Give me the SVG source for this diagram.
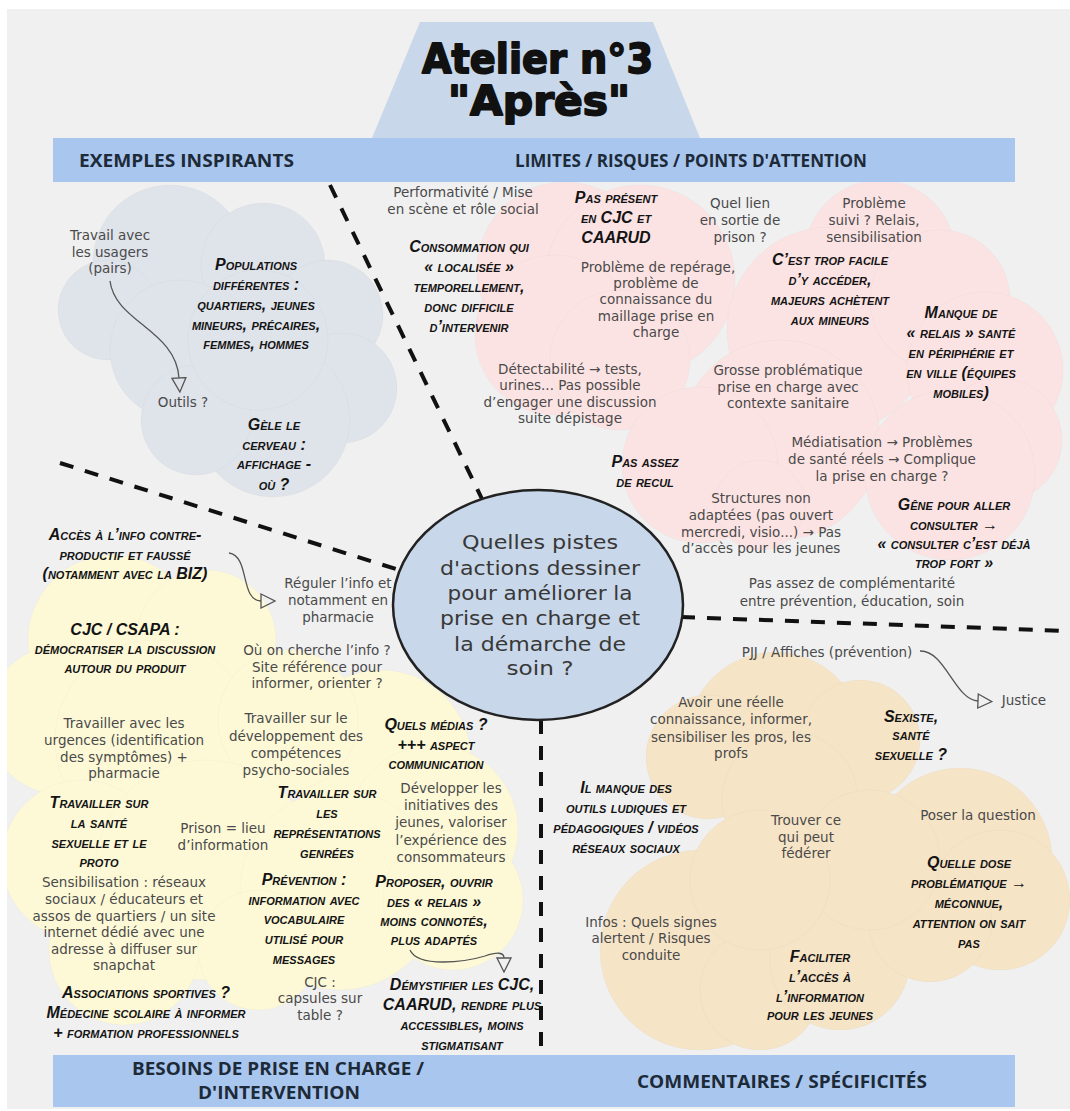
<svg xmlns="http://www.w3.org/2000/svg" width="1070" height="1111" viewBox="0 0 1070 1111">
<defs>
<style>
.g{font-family:"DejaVu Sans","Liberation Sans",sans-serif;font-size:13.5px;fill:#4a4a4a;text-anchor:middle}
.h{font-family:"Liberation Sans",Arial,sans-serif;font-size:16px;font-weight:bold;font-style:italic;font-variant:small-caps;fill:#141414;text-anchor:middle}
.bar{fill:#a9c6ee}
.bt{font-family:"Open Sans","Liberation Sans",sans-serif;font-weight:bold;font-size:17px;fill:#1d2a38}
.dash{stroke:#111;stroke-width:4;stroke-dasharray:14 12;fill:none}
.conn{stroke:#555;stroke-width:1.3;fill:none;marker-end:url(#tri)}
.cloud circle{stroke:#000;stroke-opacity:0.022;stroke-width:1}
#cloud-grey circle{fill:#dfe3ea}
#cloud-pink circle{fill:#fce3e3}
#cloud-yellow circle{fill:#fdf9d7}
#cloud-beige circle{fill:#f6e4c7}
.title{font-family:"DejaVu Sans","Liberation Sans",sans-serif;font-weight:900;font-size:40px;fill:#111;stroke:#111;stroke-width:1.8;stroke-linejoin:round;text-anchor:middle}
.q{font-family:"DejaVu Sans","Liberation Sans",sans-serif;font-size:20px;fill:#383838;text-anchor:middle}
</style>
<clipPath id="bgclip"><rect x="7" y="9" width="1063" height="1100"/></clipPath>
<marker id="tri" markerUnits="userSpaceOnUse" markerWidth="16" markerHeight="16" refX="1" refY="8" orient="auto" viewBox="0 0 16 16"><path d="M1,1 L15,8 L1,15 z" fill="none" stroke="#555" stroke-width="1.3"/></marker>
</defs>

<rect x="0" y="0" width="1070" height="1111" fill="#ffffff"/>
<rect x="7" y="9" width="1063" height="1100" fill="#f0f0f0"/>

<g id="title-block">
<polygon points="420,22 653,22 700,138 372,138" fill="#c8d8ea"/>
<text class="title"><tspan x="537.5" y="73" textLength="231" lengthAdjust="spacingAndGlyphs">Atelier n°3</tspan><tspan x="539" y="115" textLength="182" lengthAdjust="spacingAndGlyphs">"Après"</tspan></text>
</g>

<g id="clouds" clip-path="url(#bgclip)">
<g id="cloud-grey" class="cloud">
<circle cx="170" cy="262" r="77"/>
<circle cx="263" cy="265" r="62"/>
<circle cx="328" cy="315" r="55"/>
<circle cx="108" cy="310" r="50"/>
<circle cx="180" cy="350" r="70"/>
<circle cx="342" cy="388" r="55"/>
<circle cx="273" cy="420" r="77"/>
<circle cx="196" cy="420" r="55"/>
<circle cx="258" cy="340" r="70"/>
</g>
<g id="cloud-pink" class="cloud">
<circle cx="565" cy="270" r="88"/>
<circle cx="640" cy="280" r="95"/>
<circle cx="555" cy="335" r="80"/>
<circle cx="620" cy="360" r="70"/>
<circle cx="880" cy="255" r="75"/>
<circle cx="830" cy="330" r="103"/>
<circle cx="940" cy="300" r="70"/>
<circle cx="985" cy="370" r="78"/>
<circle cx="1000" cy="440" r="62"/>
<circle cx="780" cy="440" r="100"/>
<circle cx="700" cy="465" r="78"/>
<circle cx="760" cy="505" r="45"/>
<circle cx="950" cy="475" r="85"/>
</g>
<g id="cloud-yellow" class="cloud">
<circle cx="113" cy="640" r="85"/>
<circle cx="206" cy="640" r="70"/>
<circle cx="62" cy="720" r="75"/>
<circle cx="155" cy="740" r="100"/>
<circle cx="381" cy="760" r="90"/>
<circle cx="288" cy="720" r="70"/>
<circle cx="433" cy="830" r="85"/>
<circle cx="82" cy="860" r="80"/>
<circle cx="206" cy="870" r="110"/>
<circle cx="340" cy="890" r="100"/>
<circle cx="453" cy="900" r="70"/>
<circle cx="124" cy="950" r="75"/>
<circle cx="258" cy="950" r="60"/>
</g>
<g id="cloud-beige" class="cloud">
<circle cx="775" cy="740" r="88"/>
<circle cx="708" cy="757" r="62"/>
<circle cx="860" cy="740" r="60"/>
<circle cx="790" cy="800" r="68"/>
<circle cx="700" cy="950" r="100"/>
<circle cx="760" cy="990" r="60"/>
<circle cx="840" cy="960" r="70"/>
<circle cx="960" cy="860" r="92"/>
<circle cx="1000" cy="900" r="70"/>
<circle cx="930" cy="920" r="62"/>
<circle cx="870" cy="860" r="70"/>
<circle cx="760" cy="880" r="70"/>
</g>
</g>

<g id="header-bars">
<rect class="bar" x="53" y="138" width="962" height="44"/>
<text class="bt" x="79" y="167" textLength="215" lengthAdjust="spacingAndGlyphs">EXEMPLES INSPIRANTS</text>
<text class="bt" x="515" y="167" textLength="352" lengthAdjust="spacingAndGlyphs">LIMITES / RISQUES / POINTS D'ATTENTION</text>
<rect class="bar" x="53" y="1055" width="962" height="52"/>
<text class="bt" x="278" y="1075" text-anchor="middle" textLength="292" lengthAdjust="spacingAndGlyphs">BESOINS DE PRISE EN CHARGE /</text>
<text class="bt" x="279" y="1099" text-anchor="middle" textLength="162" lengthAdjust="spacingAndGlyphs">D'INTERVENTION</text>
<text class="bt" x="782" y="1088" text-anchor="middle" textLength="290" lengthAdjust="spacingAndGlyphs">COMMENTAIRES / SPÉCIFICITÉS</text>
</g>

<g id="connectors">
<line class="dash" x1="330" y1="185" x2="482" y2="499"/>
<line class="dash" x1="60" y1="463" x2="399" y2="570"/>
<line class="dash" x1="681" y1="617" x2="1068" y2="631"/>
<line class="dash" x1="541" y1="720" x2="541" y2="1052"/>
<path class="conn" d="M110,281 C115,322 176,330 179,378"/>
<path class="conn" d="M229,553 C250,556 240,601 261,601"/>
<path class="conn" d="M410,950 C418,968 465,962 485,956 C497,952 504,952 504,958"/>
<path class="conn" d="M920,651 C945,650 955,700 978,701"/>
</g>

<g id="center-question">
<ellipse cx="538" cy="605" rx="145" ry="115" fill="#c8d7e9" stroke="#222" stroke-width="2.5"/>
<text class="q" x="540" y="549" textLength="156" lengthAdjust="spacingAndGlyphs">Quelles pistes</text>
<text class="q" x="540" y="575" textLength="200" lengthAdjust="spacingAndGlyphs">d'actions dessiner</text>
<text class="q" x="540" y="600" textLength="185" lengthAdjust="spacingAndGlyphs">pour améliorer la</text>
<text class="q" x="540" y="625" textLength="200" lengthAdjust="spacingAndGlyphs">prise en charge et</text>
<text class="q" x="540" y="651" textLength="172" lengthAdjust="spacingAndGlyphs">la démarche de</text>
<text class="q" x="540" y="675" textLength="67" lengthAdjust="spacingAndGlyphs">soin ?</text>
</g>

<!-- EXEMPLES INSPIRANTS -->
<g id="n-travail"><text class="g"><tspan x="110" y="240">Travail avec</tspan><tspan x="110" y="257">les usagers</tspan><tspan x="110" y="273">(pairs)</tspan></text></g>
<g id="n-outils"><text class="g" x="183" y="407">Outils ?</text></g>
<g id="n-populations"><text class="h"><tspan x="256" y="270">Populations</tspan><tspan x="256" y="290">différentes :</tspan><tspan x="256" y="310">quartiers, jeunes</tspan><tspan x="256" y="330">mineurs, précaires,</tspan><tspan x="256" y="349">femmes, hommes</tspan></text></g>
<g id="n-gele"><text class="h"><tspan x="274" y="430">Gèle le</tspan><tspan x="274" y="450">cerveau :</tspan><tspan x="274" y="469">affichage -</tspan><tspan x="274" y="490">où ?</tspan></text></g>

<!-- LIMITES -->
<g id="n-performativite"><text class="g"><tspan x="463" y="197">Performativité / Mise</tspan><tspan x="463" y="214">en scène et rôle social</tspan></text></g>
<g id="n-pas-present"><text class="h"><tspan x="616" y="203">Pas présent</tspan><tspan x="616" y="223">en CJC et</tspan><tspan x="616" y="243">CAARUD</tspan></text></g>
<g id="n-quel-lien"><text class="g"><tspan x="740" y="208">Quel lien</tspan><tspan x="740" y="225">en sortie de</tspan><tspan x="740" y="242">prison ?</tspan></text></g>
<g id="n-probleme-suivi"><text class="g"><tspan x="874" y="208">Problème</tspan><tspan x="874" y="225">suivi ? Relais,</tspan><tspan x="874" y="242">sensibilisation</tspan></text></g>
<g id="n-consommation"><text class="h"><tspan x="469" y="252">Consommation qui</tspan><tspan x="469" y="272">« localisée »</tspan><tspan x="469" y="292">temporellement,</tspan><tspan x="469" y="312">donc difficile</tspan><tspan x="469" y="332">d’intervenir</tspan></text></g>
<g id="n-reperage"><text class="g"><tspan x="658" y="272">Problème de repérage,</tspan><tspan x="656" y="288">problème de</tspan><tspan x="656" y="304">connaissance du</tspan><tspan x="656" y="321">maillage prise en</tspan><tspan x="656" y="337">charge</tspan></text></g>
<g id="n-trop-facile"><text class="h"><tspan x="830" y="265">C’est trop facile</tspan><tspan x="830" y="285">d’y accéder,</tspan><tspan x="830" y="305">majeurs achètent</tspan><tspan x="830" y="325">aux mineurs</tspan></text></g>
<g id="n-manque-relais"><text class="h"><tspan x="961" y="318">Manque de</tspan><tspan x="961" y="338">« relais » santé</tspan><tspan x="961" y="358">en périphérie et</tspan><tspan x="961" y="378">en ville (équipes</tspan><tspan x="961" y="398">mobiles)</tspan></text></g>
<g id="n-detectabilite"><text class="g"><tspan x="570" y="374">Détectabilité → tests,</tspan><tspan x="570" y="390">urines... Pas possible</tspan><tspan x="570" y="407">d’engager une discussion</tspan><tspan x="570" y="423">suite dépistage</tspan></text></g>
<g id="n-grosse"><text class="g"><tspan x="788" y="375">Grosse problématique</tspan><tspan x="788" y="392">prise en charge avec</tspan><tspan x="788" y="408">contexte sanitaire</tspan></text></g>
<g id="n-mediatisation"><text class="g"><tspan x="882" y="447">Médiatisation → Problèmes</tspan><tspan x="882" y="464">de santé réels → Complique</tspan><tspan x="882" y="481">la prise en charge ?</tspan></text></g>
<g id="n-recul"><text class="h"><tspan x="645" y="467">Pas assez</tspan><tspan x="645" y="487">de recul</tspan></text></g>
<g id="n-structures"><text class="g"><tspan x="761" y="503">Structures non</tspan><tspan x="761" y="520">adaptées (pas ouvert</tspan><tspan x="761" y="537">mercredi, visio...) → Pas</tspan><tspan x="761" y="553">d’accès pour les jeunes</tspan></text></g>
<g id="n-gene"><text class="h"><tspan x="954" y="510">Gêne pour aller</tspan><tspan x="954" y="530">consulter →</tspan><tspan x="954" y="549">« consulter c’est déjà</tspan><tspan x="954" y="568">trop fort »</tspan></text></g>
<g id="n-complementarite"><text class="g"><tspan x="852" y="588">Pas assez de complémentarité</tspan><tspan x="852" y="606">entre prévention, éducation, soin</tspan></text></g>

<!-- BESOINS -->
<g id="n-acces"><text class="h"><tspan x="125" y="540">Accès à l’info contre-</tspan><tspan x="125" y="560">productif et faussé</tspan><tspan x="125" y="579">(notamment avec la BIZ)</tspan></text></g>
<g id="n-reguler"><text class="g"><tspan x="338" y="588">Réguler l’info et</tspan><tspan x="338" y="605">notamment en</tspan><tspan x="338" y="622">pharmacie</tspan></text></g>
<g id="n-cjc-csapa"><text class="h"><tspan x="125" y="635">CJC / CSAPA :</tspan><tspan x="125" y="654">démocratiser la discussion</tspan><tspan x="125" y="673">autour du produit</tspan></text></g>
<g id="n-ou-cherche"><text class="g"><tspan x="317" y="655">Où on cherche l’info ?</tspan><tspan x="317" y="672">Site référence pour</tspan><tspan x="317" y="688">informer, orienter ?</tspan></text></g>
<g id="n-urgences"><text class="g"><tspan x="124" y="728">Travailler avec les</tspan><tspan x="124" y="745">urgences (identification</tspan><tspan x="124" y="762">des symptômes) +</tspan><tspan x="124" y="778">pharmacie</tspan></text></g>
<g id="n-competences"><text class="g"><tspan x="296" y="723">Travailler sur le</tspan><tspan x="296" y="741">développement des</tspan><tspan x="296" y="758">compétences</tspan><tspan x="296" y="775">psycho-sociales</tspan></text></g>
<g id="n-medias"><text class="h"><tspan x="436" y="730">Quels médias ?</tspan><tspan x="436" y="750">+++ aspect</tspan><tspan x="436" y="769">communication</tspan></text></g>
<g id="n-sante-sexuelle"><text class="h"><tspan x="99" y="808">Travailler sur</tspan><tspan x="99" y="828">la santé</tspan><tspan x="99" y="848">sexuelle et le</tspan><tspan x="99" y="867">proto</tspan></text></g>
<g id="n-representations"><text class="h"><tspan x="327" y="798">Travailler sur</tspan><tspan x="327" y="818">les</tspan><tspan x="327" y="838">représentations</tspan><tspan x="327" y="858">genrées</tspan></text></g>
<g id="n-prison"><text class="g"><tspan x="223" y="833">Prison = lieu</tspan><tspan x="223" y="850">d’information</tspan></text></g>
<g id="n-developper"><text class="g"><tspan x="451" y="793">Développer les</tspan><tspan x="451" y="810">initiatives des</tspan><tspan x="451" y="827">jeunes, valoriser</tspan><tspan x="451" y="845">l’expérience des</tspan><tspan x="451" y="862">consommateurs</tspan></text></g>
<g id="n-sensibilisation"><text class="g"><tspan x="124" y="887">Sensibilisation : réseaux</tspan><tspan x="124" y="904">sociaux / éducateurs et</tspan><tspan x="124" y="921">assos de quartiers / un site</tspan><tspan x="124" y="937">internet dédié avec une</tspan><tspan x="124" y="954">adresse à diffuser sur</tspan><tspan x="124" y="970">snapchat</tspan></text></g>
<g id="n-prevention"><text class="h"><tspan x="304" y="885">Prévention :</tspan><tspan x="304" y="905">information avec</tspan><tspan x="304" y="924">vocabulaire</tspan><tspan x="304" y="944">utilisé pour</tspan><tspan x="304" y="964">messages</tspan></text></g>
<g id="n-proposer"><text class="h"><tspan x="434" y="887">Proposer, ouvrir</tspan><tspan x="434" y="907">des « relais »</tspan><tspan x="434" y="926">moins connotés,</tspan><tspan x="434" y="945">plus adaptés</tspan></text></g>
<g id="n-cjc-capsules"><text class="g"><tspan x="320" y="987">CJC :</tspan><tspan x="320" y="1003">capsules sur</tspan><tspan x="320" y="1020">table ?</tspan></text></g>
<g id="n-demystifier"><text class="h"><tspan x="462" y="990">Démystifier les CJC,</tspan><tspan x="462" y="1010">CAARUD, rendre plus</tspan><tspan x="462" y="1030">accessibles, moins</tspan><tspan x="462" y="1050">stigmatisant</tspan></text></g>
<g id="n-associations"><text class="h"><tspan x="146" y="998">Associations sportives ?</tspan><tspan x="146" y="1018">Médecine scolaire à informer</tspan><tspan x="146" y="1038">+ formation professionnels</tspan></text></g>

<!-- COMMENTAIRES -->
<g id="n-pjj"><text class="g" x="827" y="657">PJJ / Affiches (prévention)</text></g>
<g id="n-justice"><text class="g" x="1024" y="705">Justice</text></g>
<g id="n-avoir"><text class="g"><tspan x="731" y="707">Avoir une réelle</tspan><tspan x="731" y="724">connaissance, informer,</tspan><tspan x="731" y="742">sensibiliser les pros, les</tspan><tspan x="731" y="758">profs</tspan></text></g>
<g id="n-sexiste"><text class="h"><tspan x="911" y="722">Sexiste,</tspan><tspan x="911" y="740">santé</tspan><tspan x="911" y="760">sexuelle ?</tspan></text></g>
<g id="n-il-manque"><text class="h"><tspan x="626" y="793">Il manque des</tspan><tspan x="626" y="813">outils ludiques et</tspan><tspan x="626" y="833">pédagogiques / vidéos</tspan><tspan x="626" y="853">réseaux sociaux</tspan></text></g>
<g id="n-trouver"><text class="g"><tspan x="806" y="825">Trouver ce</tspan><tspan x="806" y="842">qui peut</tspan><tspan x="806" y="858">fédérer</tspan></text></g>
<g id="n-poser"><text class="g" x="978" y="820">Poser la question</text></g>
<g id="n-quelle-dose"><text class="h"><tspan x="969" y="868">Quelle dose</tspan><tspan x="969" y="888">problématique →</tspan><tspan x="969" y="908">méconnue,</tspan><tspan x="969" y="928">attention on sait</tspan><tspan x="969" y="948">pas</tspan></text></g>
<g id="n-infos"><text class="g"><tspan x="651" y="927">Infos : Quels signes</tspan><tspan x="651" y="943">alertent / Risques</tspan><tspan x="651" y="960">conduite</tspan></text></g>
<g id="n-faciliter"><text class="h"><tspan x="820" y="962">Faciliter</tspan><tspan x="820" y="982">l’accès à</tspan><tspan x="820" y="1002">l’information</tspan><tspan x="820" y="1020">pour les jeunes</tspan></text></g>
</svg>
